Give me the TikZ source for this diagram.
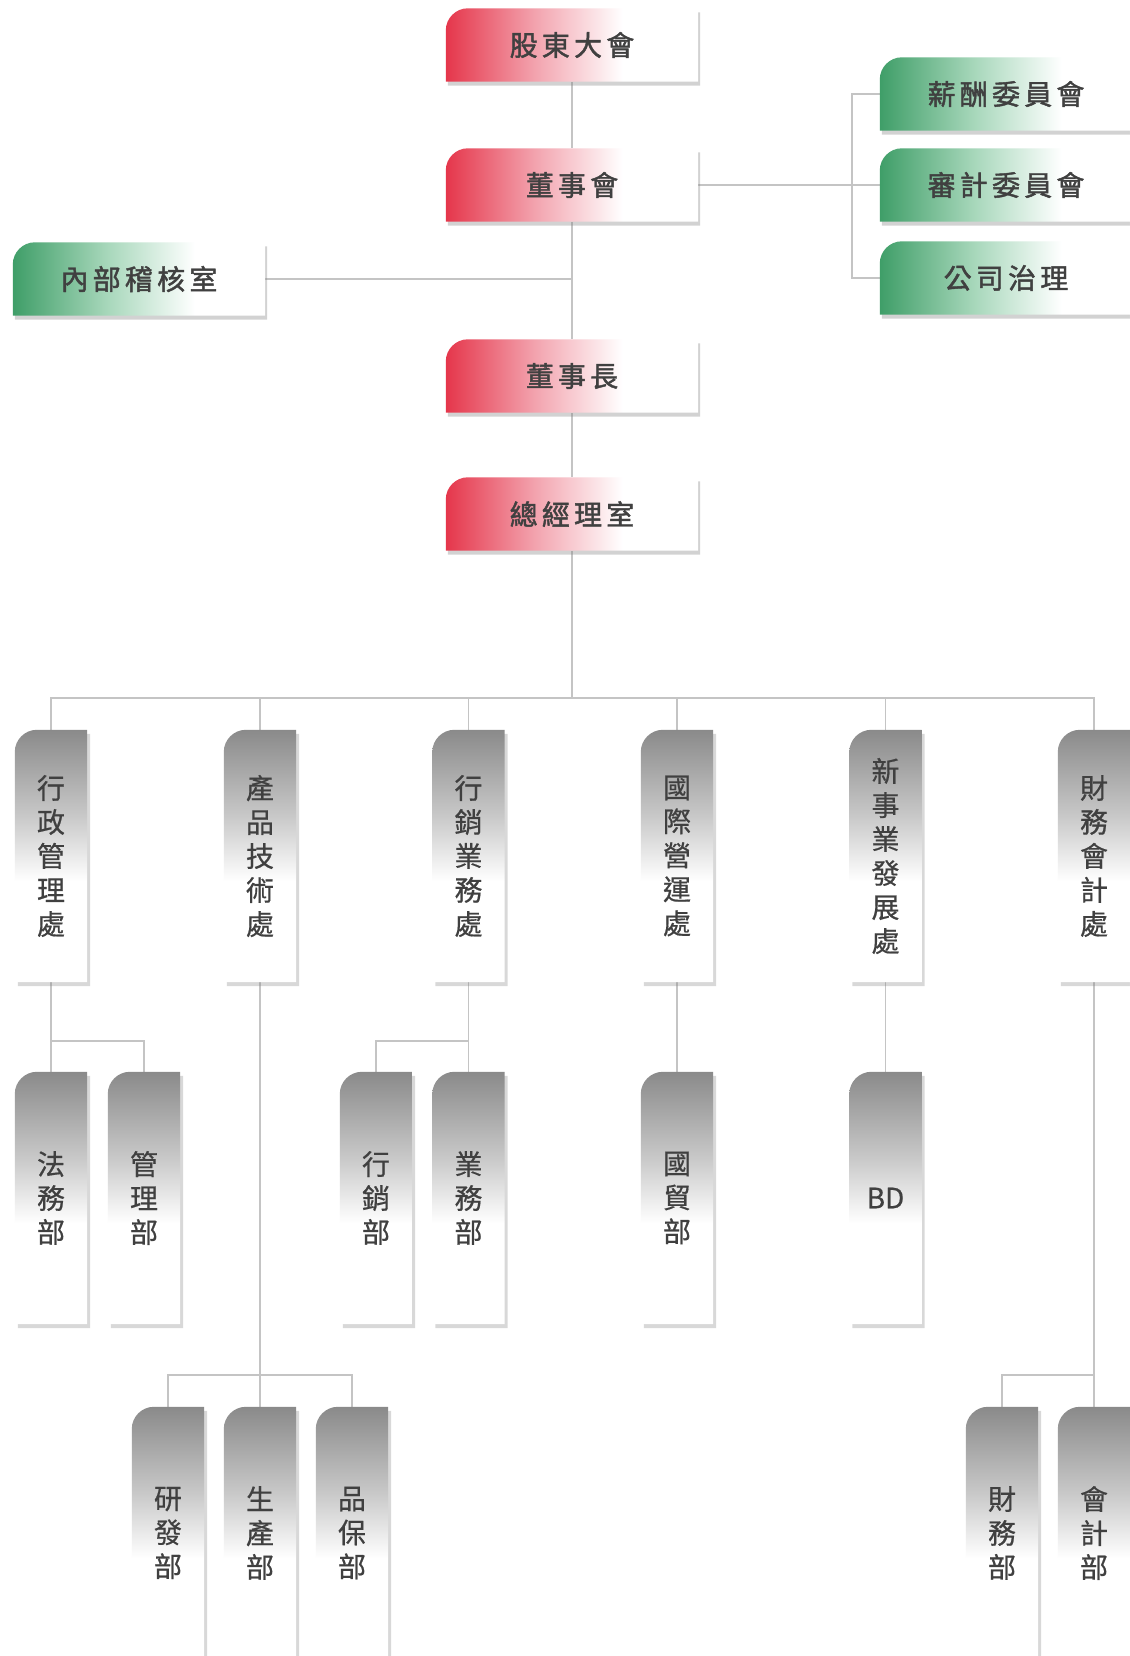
\documentclass[tikz,border=0pt]{standalone}
\usepackage{fontspec}
\newfontfamily\cjk[FakeBold=0.6]{Noto Sans CJK TC}
\newfontfamily\cjkwide[LetterSpace=15,FakeBold=1.6]{Noto Sans CJK TC}
\usetikzlibrary{shadows}

\definecolor{rdeep}{HTML}{E5364B}
\definecolor{rsoft}{HTML}{F3A5B0}
\definecolor{gdeep}{HTML}{3F9E68}
\definecolor{gsoft}{HTML}{A9D8BC}
\definecolor{kdeep}{HTML}{8A8A8A}
\definecolor{ksoft}{HTML}{C8C8C8}
\definecolor{txtgray}{HTML}{404040}
\definecolor{linegray}{HTML}{C4C4C4}

\pgfdeclarehorizontalshading{redfade}{100bp}{color(0bp)=(rdeep); color(25bp)=(rdeep); color(43bp)=(rsoft); color(60bp)=(white); color(100bp)=(white)}
\pgfdeclarehorizontalshading{greenfade}{100bp}{color(0bp)=(gdeep); color(25bp)=(gdeep); color(44bp)=(gsoft); color(61bp)=(white); color(100bp)=(white)}
\pgfdeclareverticalshading{grayfade}{100bp}{color(0bp)=(white); color(45bp)=(white); color(58bp)=(ksoft); color(75bp)=(kdeep); color(100bp)=(kdeep)}

\pgfdeclarelayer{bg}
\pgfsetlayers{bg,main}

\tikzset{
  hbox/.style={minimum width=252pt, minimum height=73pt, inner sep=0pt, text=txtgray, font=\cjkwide\fontsize{28}{30}\selectfont},
  vbox/.style={minimum width=72pt, minimum height=252pt, inner sep=0pt, align=center, text=txtgray, font=\cjk\fontsize{28}{34}\selectfont},
  link/.style={draw=linegray, line width=1.3pt},
  redfill/.style={shading=redfade, drop shadow={shadow xshift=2pt, shadow yshift=-4pt, opacity=0.35}},
  greenfill/.style={shading=greenfade, drop shadow={shadow xshift=2pt, shadow yshift=-4pt, opacity=0.35}},
  grayfill/.style={shading=grayfade, drop shadow={shadow xshift=3pt, shadow yshift=-4pt, opacity=0.3}}
}

\begin{document}
\begin{tikzpicture}[x=1pt,y=-1pt]

\useasboundingbox (0,0) rectangle (1129,1656);

% top of the chart
\node[hbox] (agm) at (572,45) {股東大會};
\node[hbox] (bod) at (572,185) {董事會};
\node[hbox] (chair) at (572,376) {董事長};
\node[hbox] (gmo) at (572,514) {總經理室};
\node[hbox] (audit) at (139,279) {內部稽核室};
\node[hbox] (comp) at (1006,94) {薪酬委員會};
\node[hbox] (auc) at (1006,185) {審計委員會};
\node[hbox] (gov) at (1006,278) {公司治理};

% divisions
\node[vbox] (admin) at (51,856) {行\\政\\管\\理\\處};
\node[vbox] (prod) at (260,856) {產\\品\\技\\術\\處};
\node[vbox] (mkt) at (468.5,856) {行\\銷\\業\\務\\處};
\node[vbox] (intl) at (677,856) {國\\際\\營\\運\\處};
\node[vbox] (newbiz) at (885.5,856) {新\\事\\業\\發\\展\\處};
\node[vbox] (fin) at (1094,856) {財\\務\\會\\計\\處};

% departments
\node[vbox] (legal) at (51,1198) {法\\務\\部};
\node[vbox] (mgmt) at (144,1198) {管\\理\\部};
\node[vbox] (sales) at (376,1198) {行\\銷\\部};
\node[vbox] (biz) at (468.5,1198) {業\\務\\部};
\node[vbox] (trade) at (677,1198) {國\\貿\\部};
\node[vbox] (bd) at (885.5,1198) {BD};
\node[vbox] (rd) at (168,1533) {研\\發\\部};
\node[vbox] (mfg) at (260,1533) {生\\產\\部};
\node[vbox] (qa) at (352,1533) {品\\保\\部};
\node[vbox] (treas) at (1002,1533) {財\\務\\部};
\node[vbox] (acct) at (1094,1533) {會\\計\\部};

\coordinate (cbr) at (852,185);
\coordinate (bus) at (572,698);
\coordinate (jadmin) at (51,1041);
\coordinate (jmkt) at (468.5,1041);
\coordinate (jprod) at (260,1375);
\coordinate (jfin) at (1094,1375);

\begin{pgfonlayer}{bg}
\fill[white] (0,0) rectangle (1129,1656);

% lines
\draw[link] (agm.south) -- (bod.north);
\draw[link] (bod.south) -- (chair.north);
\draw[link] (chair.south) -- (gmo.north);
\draw[link] (gmo.south) -- (bus);
\draw[link] (audit.east) -- (audit.east -| bod.south);
\draw[link] (bod.east) -- (auc.west);
\draw[link] (comp.west) -- (comp.west -| cbr) -- (gov.west -| cbr) -- (gov.west);
\draw[link] (admin.north) |- (bus) -| (fin.north);
\foreach \n in {prod,mkt,intl,newbiz}
  \draw[link] (\n.north) -- (\n.north |- bus);
\draw[link] (admin.south) -- (legal.north);
\draw[link] (mgmt.north) |- (jadmin);
\draw[link] (mkt.south) -- (biz.north);
\draw[link] (sales.north) |- (jmkt);
\draw[link] (intl.south) -- (trade.north);
\draw[link] (newbiz.south) -- (bd.north);
\draw[link] (prod.south) -- (mfg.north);
\draw[link] (rd.north) |- (jprod) -| (qa.north);
\draw[link] (fin.south) -- (acct.north);
\draw[link] (treas.north) |- (jfin);

% boxes
\foreach \n in {agm,bod,chair,gmo}
  \shade[redfill] (\n.south west) -- ([yshift=-22pt]\n.north west) .. controls ([yshift=-10pt]\n.north west) and ([xshift=10pt]\n.north west) .. ([xshift=22pt]\n.north west) -- (\n.north east) -- (\n.south east) -- cycle;
\foreach \n in {audit,comp,auc,gov}
  \shade[greenfill] (\n.south west) -- ([yshift=-22pt]\n.north west) .. controls ([yshift=-10pt]\n.north west) and ([xshift=10pt]\n.north west) .. ([xshift=22pt]\n.north west) -- (\n.north east) -- (\n.south east) -- cycle;
\foreach \n in {admin,prod,mkt,intl,newbiz,fin,legal,mgmt,sales,biz,trade,bd,rd,mfg,qa,treas,acct}
  \shade[grayfill] (\n.south west) -- ([yshift=-22pt]\n.north west) .. controls ([yshift=-10pt]\n.north west) and ([xshift=10pt]\n.north west) .. ([xshift=22pt]\n.north west) -- (\n.north east) -- (\n.south east) -- cycle;
\end{pgfonlayer}

\end{tikzpicture}
\end{document}
